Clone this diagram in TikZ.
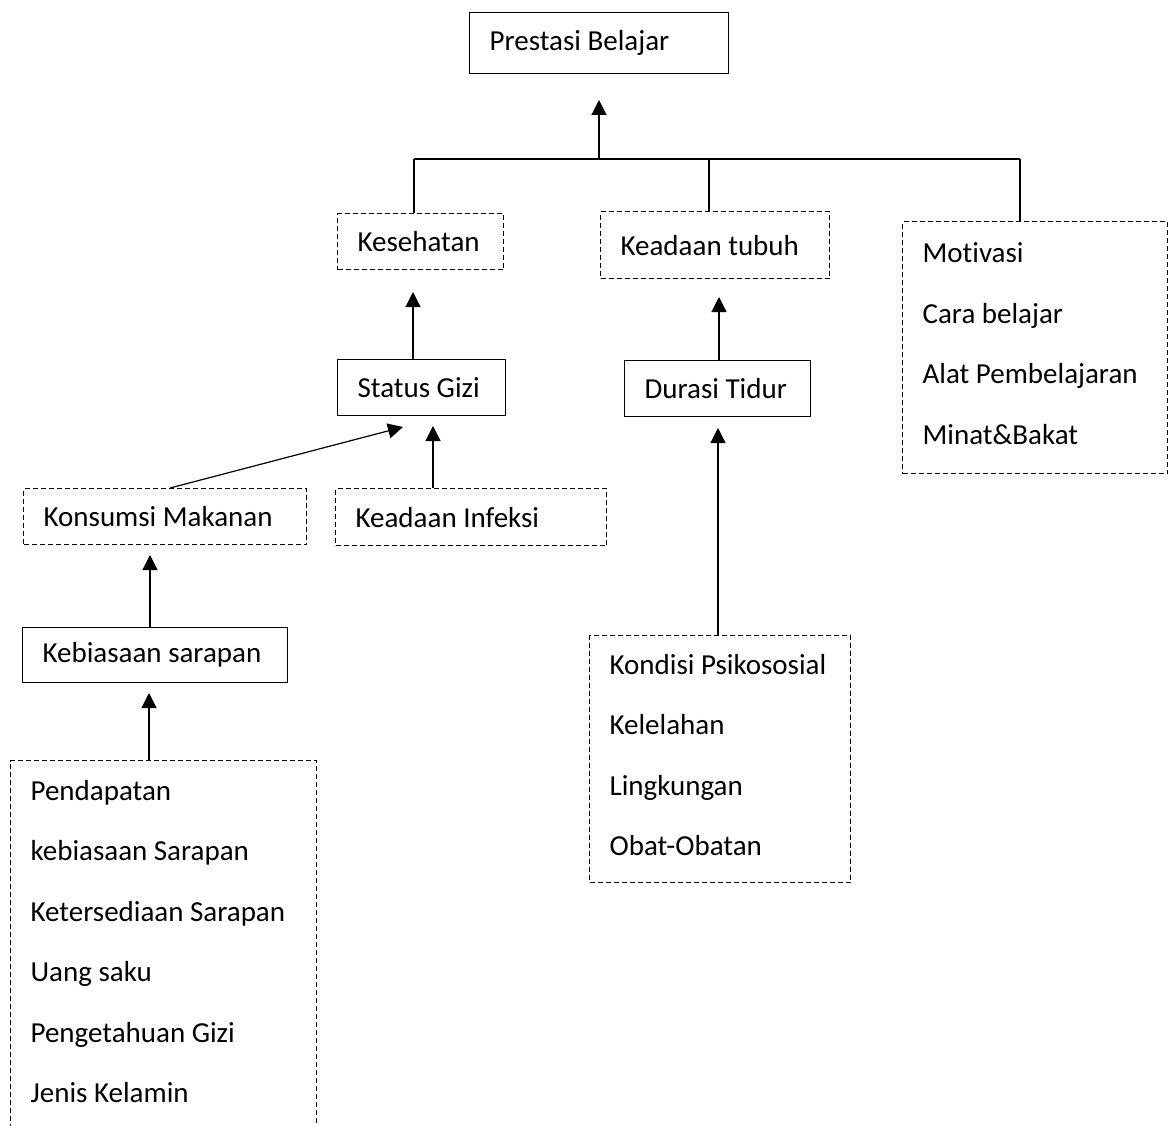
\documentclass[tikz,border=0pt]{standalone}
\usepackage{fontspec}
\setmainfont[Ligatures=NoCommon]{Carlito}
\usetikzlibrary{arrows.meta,calc}

% invisible rule: height #1 above, depth #2 below the baseline
\newcommand{\linestrut}[2]{\rule[-#2]{0pt}{\dimexpr#1+#2\relax}}

\tikzset{
  solidbox/.style={draw, line width=1.2pt, anchor=north west, inner xsep=20pt, inner ysep=0pt, align=flush left, font=\fontsize{29pt}{60.5pt}\selectfont},
  dashbox/.style={solidbox, dash pattern=on 5pt off 3pt},
  arr/.style={line width=1.2pt, -{Triangle[width=15pt,length=15pt]}},
  link/.style={line width=1.2pt}
}

\begin{document}
\begin{tikzpicture}[x=1pt,y=-1pt]
			\useasboundingbox (0,0) rectangle (1172,1126);

			% Top
			\node[solidbox, text width=219pt, minimum height=61pt] (prestasi) at (469,12) {Prestasi Belajar};

			% Second row
			\node[dashbox, text width=126pt, minimum height=56pt] (kesehatan) at (337,213) {Kesehatan};
			\node[dashbox, text width=189pt, minimum height=67pt] (tubuh) at (600,211) {Keadaan tubuh};
			\node[dashbox, text width=225pt, minimum height=252pt] (motivasi) at (902,221) {\linestrut{36pt}{24.5pt}Motivasi\\Cara belajar\\Alat Pembelajaran\\Minat\&Bakat\linestrut{36pt}{24.5pt}};

			% Third row
			\node[solidbox, text width=128pt, minimum height=56pt] (status) at (337,359) {Status Gizi};
			\node[solidbox, text width=146pt, minimum height=56pt] (durasi) at (624,360) {Durasi Tidur};

			% Left branch
			\node[dashbox, text width=243pt, minimum height=56pt] (konsumsi) at (23,488) {Konsumsi Makanan};
			\node[dashbox, text width=231pt, minimum height=57pt] (infeksi) at (335,488) {Keadaan Infeksi};
			\node[solidbox, text width=225pt, minimum height=55pt] (sarapan) at (22,627) {Kebiasaan sarapan};
			\node[dashbox, text width=266pt] (faktor) at (10,760) {\linestrut{39.75pt}{0pt}Pendapatan\\kebiasaan Sarapan\\Ketersediaan Sarapan\\Uang saku\\Pengetahuan Gizi\\Jenis Kelamin\linestrut{0pt}{50pt}};

			% Right branch
			\node[dashbox, text width=221pt, minimum height=247pt] (kondisi) at (589,635) {\linestrut{36pt}{24.5pt}Kondisi Psikososial\\Kelelahan\\Lingkungan\\Obat-Obatan\linestrut{36pt}{24.5pt}};

			% Bar under the top box
			\coordinate (barL) at (414,159);
			\coordinate (barC) at (599,159);
			\coordinate (barM) at (709,159);
			\coordinate (barR) at (1020,159);
			\coordinate (tipP) at (599,100);
			\draw[link] (barL) -- (barR);
			\draw[arr] (barC) -- (tipP);
			\draw[link] (barL) -- (barL |- kesehatan.north);
			\draw[link] (barM) -- (barM |- tubuh.north);
			\draw[link] (barR) -- (barR |- motivasi.north);

			% Arrow tips below the boxes
			\coordinate (tipK) at (413,292);
			\coordinate (tipT) at (719,297);
			\coordinate (tipS1) at (403,427);
			\coordinate (tipS2) at (433,426);
			\coordinate (tipD) at (718,428);
			\coordinate (tipM) at (150,555);
			\coordinate (tipB) at (149,693);

			\draw[arr] (status.north -| tipK) -- (tipK);
			\draw[arr] (durasi.north -| tipT) -- (tipT);
			\draw[arr] ($(konsumsi.north)+(5,0)$) -- (tipS1);
			\draw[arr] (infeksi.north -| tipS2) -- (tipS2);
			\draw[arr] (kondisi.north -| tipD) -- (tipD);
			\draw[arr] (sarapan.north -| tipM) -- (tipM);
			\draw[arr] (faktor.north -| tipB) -- (tipB);
		\end{tikzpicture}
\end{document}
